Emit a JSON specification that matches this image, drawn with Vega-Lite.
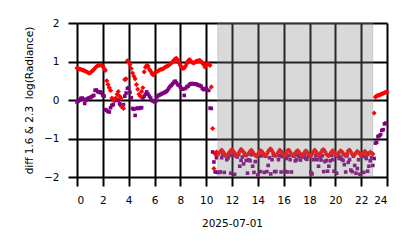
{
"$schema": "https://vega.github.io/schema/vega-lite/v6.json",
"width": 310, "height": 154,
"autosize": "none",
"padding": {"left": 77, "top": 23, "right": 27, "bottom": 71},
"config": {"font": "DejaVu Sans", "view": {"stroke": null},
 "axis": {"grid": true, "gridColor": "black", "gridWidth": 2, "gridOpacity": 1, "domain": false, "labelOverlap": false,
  "tickColor": "black", "tickWidth": 2, "tickSize": 9, "labelFontSize": 10.5, "labelColor": "black",
  "labelPadding": 9, "titleFontSize": 10.5, "titleFontWeight": "normal", "titleColor": "black"}},
"datasets": {
"span": [{"x1": 10.9, "x2": 22.9}],
"obs": [
{"t":0.0,"red":0.83,"purple":-0.05},{"t":0.1,"red":0.82,"purple":-0.03},{"t":0.2,"red":0.80,"purple":0.00},{"t":0.3,"red":0.80,"purple":0.04},{"t":0.4,"red":0.78,"purple":0.05},
{"t":0.5,"red":0.77,"purple":0.02},{"t":0.6,"red":0.76,"purple":-0.09},{"t":0.7,"red":0.74,"purple":0.00},{"t":0.8,"red":0.72,"purple":0.03},{"t":0.9,"red":0.70,"purple":0.05},
{"t":1.0,"red":0.70,"purple":0.06},{"t":1.1,"red":0.73,"purple":0.08},{"t":1.2,"red":0.76,"purple":0.10},{"t":1.3,"red":0.79,"purple":0.12},{"t":1.4,"red":0.83,"purple":0.25},
{"t":1.5,"red":0.87,"purple":0.26},{"t":1.6,"red":0.89,"purple":0.22},{"t":1.7,"red":0.90,"purple":0.20},{"t":1.8,"red":0.91,"purple":0.21},{"t":1.9,"red":0.90,"purple":0.18},
{"t":2.0,"red":0.88,"purple":0.12},{"t":2.1,"red":0.82,"purple":0.10},{"t":2.2,"red":0.77,"purple":-0.25},{"t":2.3,"red":0.50,"purple":-0.27},{"t":2.4,"red":0.40,"purple":-0.30},
{"t":2.5,"red":0.32,"purple":-0.31},{"t":2.6,"red":0.25,"purple":-0.20},{"t":2.7,"red":0.05,"purple":-0.14},{"t":2.8,"red":0.02,"purple":-0.12},{"t":2.9,"red":0.00,"purple":-0.02},
{"t":3.0,"red":0.05,"purple":0.01},{"t":3.1,"red":0.15,"purple":0.00},{"t":3.2,"red":0.22,"purple":-0.01},{"t":3.3,"red":0.10,"purple":-0.10},{"t":3.4,"red":0.05,"purple":-0.14},
{"t":3.5,"red":-0.15,"purple":-0.18},{"t":3.6,"red":-0.22,"purple":-0.12},{"t":3.7,"red":0.53,"purple":0.10},{"t":3.8,"red":0.55,"purple":0.18},{"t":3.9,"red":1.02,"purple":0.30},
{"t":4.0,"red":1.00,"purple":0.32},{"t":4.1,"red":0.92,"purple":0.20},{"t":4.2,"red":0.82,"purple":0.06},{"t":4.3,"red":0.70,"purple":-0.22},{"t":4.4,"red":0.62,"purple":-0.24},
{"t":4.5,"red":0.55,"purple":-0.40},{"t":4.6,"red":0.40,"purple":-0.22},{"t":4.7,"red":0.28,"purple":-0.21},{"t":4.8,"red":0.15,"purple":-0.22},{"t":4.9,"red":0.10,"purple":-0.20},
{"t":5.0,"red":0.22,"purple":-0.20},{"t":5.1,"red":0.32,"purple":0.05},{"t":5.2,"red":0.73,"purple":0.10},{"t":5.3,"red":0.85,"purple":0.15},{"t":5.4,"red":0.90,"purple":0.21},
{"t":5.5,"red":0.88,"purple":0.15},{"t":5.6,"red":0.80,"purple":0.10},{"t":5.7,"red":0.75,"purple":0.05},{"t":5.8,"red":0.68,"purple":-0.01},{"t":5.9,"red":0.65,"purple":-0.03},
{"t":6.0,"red":0.70,"purple":-0.05},{"t":6.1,"red":0.72,"purple":-0.03},{"t":6.2,"red":0.74,"purple":0.08},{"t":6.3,"red":0.76,"purple":0.12},{"t":6.4,"red":0.78,"purple":0.13},
{"t":6.5,"red":0.80,"purple":0.15},{"t":6.6,"red":0.80,"purple":0.17},{"t":6.7,"red":0.82,"purple":0.18},{"t":6.8,"red":0.85,"purple":0.20},{"t":6.9,"red":0.87,"purple":0.22},
{"t":7.0,"red":0.88,"purple":0.25},{"t":7.1,"red":0.90,"purple":0.30},{"t":7.2,"red":0.93,"purple":0.35},{"t":7.3,"red":0.96,"purple":0.38},{"t":7.4,"red":0.99,"purple":0.42},
{"t":7.5,"red":1.03,"purple":0.46},{"t":7.6,"red":1.07,"purple":0.49},{"t":7.7,"red":1.08,"purple":0.45},{"t":7.8,"red":1.04,"purple":0.40},{"t":7.9,"red":0.97,"purple":0.38},
{"t":8.0,"red":0.90,"purple":0.34},{"t":8.1,"red":0.85,"purple":0.30},{"t":8.2,"red":0.82,"purple":0.28},{"t":8.3,"red":0.83,"purple":0.12},{"t":8.4,"red":0.88,"purple":0.30},
{"t":8.5,"red":0.95,"purple":0.34},{"t":8.6,"red":1.02,"purple":0.36},{"t":8.7,"red":1.05,"purple":0.40},{"t":8.8,"red":1.02,"purple":0.42},{"t":8.9,"red":0.98,"purple":0.43},
{"t":9.0,"red":0.96,"purple":0.42},{"t":9.1,"red":0.97,"purple":0.41},{"t":9.2,"red":1.00,"purple":0.42},{"t":9.3,"red":1.02,"purple":0.40},{"t":9.4,"red":1.01,"purple":0.38},
{"t":9.5,"red":1.03,"purple":0.38},{"t":9.6,"red":1.00,"purple":0.36},{"t":9.7,"red":0.97,"purple":0.30},{"t":9.8,"red":0.92,"purple":0.27},{"t":9.9,"red":0.86,"purple":0.28},
{"t":10.0,"red":0.92,"purple":0.30},{"t":10.1,"red":0.95,"purple":0.25},{"t":10.2,"red":0.93,"purple":0.25},{"t":10.3,"red":0.90,"purple":-0.21},{"t":10.4,"red":0.34,"purple":-0.22},
{"t":10.5,"red":-0.74,"purple":-1.35},{"t":10.6,"red":-1.78,"purple":-1.61},{"t":10.7,"red":-1.40,"purple":-1.87},{"t":10.8,"red":-1.35,"purple":-1.50},{"t":10.9,"red":-1.42,"purple":-1.88},
{"t":11.0,"red":-1.38,"purple":-1.88},{"t":11.1,"red":-1.33,"purple":-1.87},{"t":11.2,"red":-1.30,"purple":-1.50},{"t":11.3,"red":-1.34,"purple":-1.42},{"t":11.4,"red":-1.39,"purple":-1.88},
{"t":11.5,"red":-1.43,"purple":-1.45},{"t":11.6,"red":-1.45,"purple":-1.55},{"t":11.7,"red":-1.41,"purple":-1.50},{"t":11.8,"red":-1.36,"purple":-1.42},{"t":11.9,"red":-1.31,"purple":-1.90},
{"t":12.0,"red":-1.29,"purple":-1.44},{"t":12.1,"red":-1.33,"purple":-1.42},{"t":12.2,"red":-1.37,"purple":-1.93},{"t":12.3,"red":-1.42,"purple":-1.45},{"t":12.4,"red":-1.44,"purple":-1.48},
{"t":12.5,"red":-1.40,"purple":-1.42},{"t":12.6,"red":-1.33,"purple":-1.72},{"t":12.7,"red":-1.28,"purple":-1.57},{"t":12.8,"red":-1.31,"purple":-1.48},{"t":12.9,"red":-1.36,"purple":-1.66},
{"t":13.0,"red":-1.40,"purple":-1.43},{"t":13.1,"red":-1.44,"purple":-1.57},{"t":13.2,"red":-1.42,"purple":-1.90},{"t":13.3,"red":-1.38,"purple":-1.55},{"t":13.4,"red":-1.33,"purple":-1.58},
{"t":13.5,"red":-1.30,"purple":-1.42},{"t":13.6,"red":-1.35,"purple":-1.72},{"t":13.7,"red":-1.40,"purple":-1.88},{"t":13.8,"red":-1.44,"purple":-1.60},{"t":13.9,"red":-1.46,"purple":-1.44},
{"t":14.0,"red":-1.41,"purple":-1.95},{"t":14.1,"red":-1.36,"purple":-1.45},{"t":14.2,"red":-1.31,"purple":-1.86},{"t":14.3,"red":-1.33,"purple":-1.45},{"t":14.4,"red":-1.38,"purple":-1.42},
{"t":14.5,"red":-1.42,"purple":-1.88},{"t":14.6,"red":-1.45,"purple":-1.46},{"t":14.7,"red":-1.40,"purple":-1.86},{"t":14.8,"red":-1.34,"purple":-1.70},{"t":14.9,"red":-1.29,"purple":-1.50},
{"t":15.0,"red":-1.27,"purple":-1.92},{"t":15.1,"red":-1.32,"purple":-1.55},{"t":15.2,"red":-1.38,"purple":-1.44},{"t":15.3,"red":-1.43,"purple":-1.86},{"t":15.4,"red":-1.45,"purple":-1.86},
{"t":15.5,"red":-1.41,"purple":-1.42},{"t":15.6,"red":-1.35,"purple":-1.55},{"t":15.7,"red":-1.30,"purple":-1.45},{"t":15.8,"red":-1.33,"purple":-1.87},{"t":15.9,"red":-1.38,"purple":-1.47},
{"t":16.0,"red":-1.42,"purple":-1.44},{"t":16.1,"red":-1.46,"purple":-1.85},{"t":16.2,"red":-1.40,"purple":-1.52},{"t":16.3,"red":-1.31,"purple":-1.87},{"t":16.4,"red":-1.30,"purple":-1.45},
{"t":16.5,"red":-1.35,"purple":-1.55},{"t":16.6,"red":-1.40,"purple":-1.87},{"t":16.7,"red":-1.44,"purple":-1.43},{"t":16.8,"red":-1.43,"purple":-1.46},{"t":16.9,"red":-1.38,"purple":-1.58},
{"t":17.0,"red":-1.33,"purple":-1.55},{"t":17.1,"red":-1.31,"purple":-1.44},{"t":17.2,"red":-1.36,"purple":-1.47},{"t":17.3,"red":-1.41,"purple":-1.56},{"t":17.4,"red":-1.45,"purple":-1.45},
{"t":17.5,"red":-1.42,"purple":-1.48},{"t":17.6,"red":-1.37,"purple":-1.43},{"t":17.7,"red":-1.32,"purple":-1.52},{"t":17.8,"red":-1.34,"purple":-1.54},{"t":17.9,"red":-1.39,"purple":-1.46},
{"t":18.0,"red":-1.43,"purple":-1.44},{"t":18.1,"red":-1.46,"purple":-1.88},{"t":18.2,"red":-1.41,"purple":-1.92},{"t":18.3,"red":-1.35,"purple":-1.55},{"t":18.4,"red":-1.30,"purple":-1.54},
{"t":18.5,"red":-1.34,"purple":-1.45},{"t":18.6,"red":-1.39,"purple":-1.55},{"t":18.7,"red":-1.44,"purple":-1.72},{"t":18.8,"red":-1.42,"purple":-1.48},{"t":18.9,"red":-1.36,"purple":-1.56},
{"t":19.0,"red":-1.30,"purple":-1.45},{"t":19.1,"red":-1.29,"purple":-1.86},{"t":19.2,"red":-1.34,"purple":-1.60},{"t":19.3,"red":-1.40,"purple":-1.57},{"t":19.4,"red":-1.44,"purple":-1.85},
{"t":19.5,"red":-1.45,"purple":-1.72},{"t":19.6,"red":-1.40,"purple":-1.58},{"t":19.7,"red":-1.35,"purple":-1.44},{"t":19.8,"red":-1.31,"purple":-1.55},{"t":19.9,"red":-1.35,"purple":-1.85},
{"t":20.0,"red":-1.40,"purple":-1.44},{"t":20.1,"red":-1.44,"purple":-1.90},{"t":20.2,"red":-1.41,"purple":-1.46},{"t":20.3,"red":-1.36,"purple":-1.52},{"t":20.4,"red":-1.32,"purple":-1.48},
{"t":20.5,"red":-1.34,"purple":-1.54},{"t":20.6,"red":-1.39,"purple":-1.57},{"t":20.7,"red":-1.43,"purple":-1.68},{"t":20.8,"red":-1.45,"purple":-1.87},{"t":20.9,"red":-1.39,"purple":-1.45},
{"t":21.0,"red":-1.32,"purple":-1.62},{"t":21.1,"red":-1.30,"purple":-1.55},{"t":21.2,"red":-1.35,"purple":-1.82},{"t":21.3,"red":-1.41,"purple":-1.86},{"t":21.4,"red":-1.44,"purple":-1.46},
{"t":21.5,"red":-1.42,"purple":-1.70},{"t":21.6,"red":-1.37,"purple":-1.90},{"t":21.7,"red":-1.33,"purple":-1.78},{"t":21.8,"red":-1.36,"purple":-1.55},{"t":21.9,"red":-1.40,"purple":-1.93},
{"t":22.0,"red":-1.44,"purple":-1.44},{"t":22.1,"red":-1.41,"purple":-1.46},{"t":22.2,"red":-1.36,"purple":-1.88},{"t":22.3,"red":-1.33,"purple":-1.47},{"t":22.4,"red":-1.37,"purple":-1.52},
{"t":22.5,"red":-1.42,"purple":-1.85},{"t":22.6,"red":-1.39,"purple":-1.72},{"t":22.7,"red":-1.35,"purple":-1.58},{"t":22.8,"red":-1.38,"purple":-1.50},{"t":22.9,"red":-1.40,"purple":-1.70},
{"t":23.0,"red":-0.34,"purple":-1.52},{"t":23.1,"red":0.08,"purple":-1.12},{"t":23.2,"red":0.10,"purple":-1.10},{"t":23.3,"red":0.12,"purple":-0.95},{"t":23.4,"red":0.13,"purple":-0.93},
{"t":23.5,"red":0.14,"purple":-0.90},{"t":23.6,"red":0.16,"purple":-0.79},{"t":23.7,"red":0.17,"purple":-0.77},{"t":23.8,"red":0.19,"purple":-0.62},{"t":23.9,"red":0.20,"purple":-0.60},
{"t":24.0,"red":0.21,"purple":null}
]},
"layer": [
 {"data": {"name": "obs"},
  "mark": {"type": "point", "shape": "square", "filled": true, "size": 13, "color": "#800080", "opacity": 1},
  "encoding": {
   "x": {"field": "t", "type": "quantitative", "scale": {"domain": [0, 24], "nice": false},
         "axis": {"values": [0,2,4,6,8,10,12,14,16,18,20,22,24], "title": "2025-07-01", "titlePadding": 13}},
   "y": {"field": "purple", "type": "quantitative", "scale": {"domain": [-2, 2], "nice": false},
         "axis": {"values": [-2,-1,0,1,2], "title": "diff 1.6 & 2.3\u00a0 log(Radiance)", "titlePadding": 9}}}},
 {"data": {"name": "obs"},
  "mark": {"type": "point", "shape": "diamond", "filled": true, "size": 26, "color": "#ff0000", "opacity": 1},
  "encoding": {
   "x": {"field": "t", "type": "quantitative", "scale": {"domain": [0, 24], "nice": false},
         "axis": {"values": [0,2,4,6,8,10,12,14,16,18,20,22,24], "title": "2025-07-01", "titlePadding": 13}},
   "y": {"field": "red", "type": "quantitative", "scale": {"domain": [-2, 2], "nice": false},
         "axis": {"values": [-2,-1,0,1,2], "title": "diff 1.6 & 2.3\u00a0 log(Radiance)", "titlePadding": 9}}}},
 {"data": {"name": "span"},
  "mark": {"type": "rect", "fill": "gray", "fillOpacity": 0.3, "stroke": "gray", "strokeOpacity": 0.3, "strokeWidth": 1},
  "encoding": {
   "x": {"field": "x1", "type": "quantitative", "scale": {"domain": [0, 24], "nice": false},
         "axis": {"values": [0,2,4,6,8,10,12,14,16,18,20,22,24], "title": "2025-07-01", "titlePadding": 13}},
   "x2": {"field": "x2"},
   "y": {"datum": -2, "type": "quantitative", "scale": {"domain": [-2, 2], "nice": false},
         "axis": {"values": [-2,-1,0,1,2], "title": "diff 1.6 & 2.3\u00a0 log(Radiance)", "titlePadding": 9}},
   "y2": {"datum": 2}}}
]
}
